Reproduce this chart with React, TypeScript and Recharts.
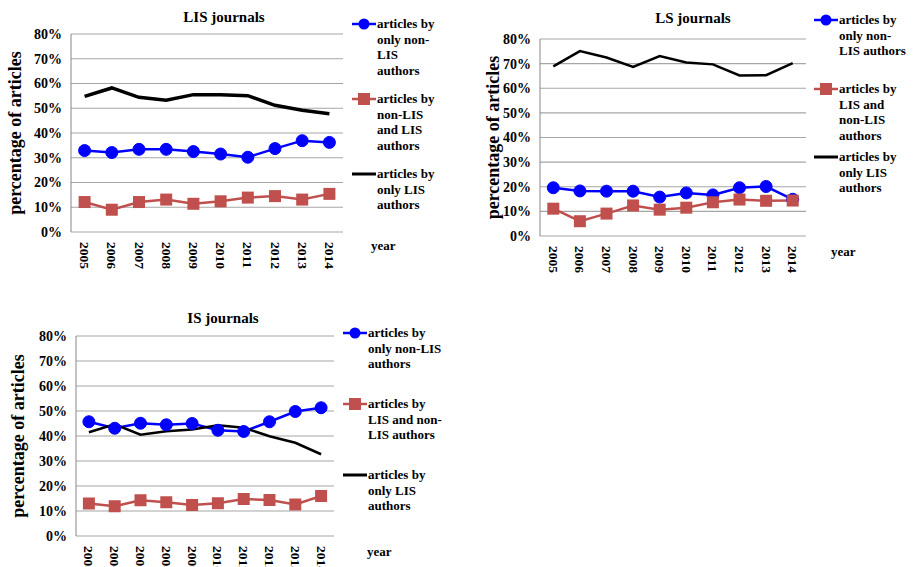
import React from 'react'
import { LineChart, Line, XAxis, YAxis, CartesianGrid } from 'recharts'

const years = ['2005', '2006', '2007', '2008', '2009', '2010', '2011', '2012', '2013', '2014']
const yTicks = [0, 10, 20, 30, 40, 50, 60, 70, 80]
const edgeTicks = [0, 1, 2, 3, 4, 5, 6, 7, 8, 9, 10]

// LIS journals
const lisOnlyNonLis = [32.9, 32.1, 33.4, 33.4, 32.5, 31.5, 30.2, 33.7, 36.9, 36.2]
const lisMixed = [12.1, 9.0, 12.1, 13.1, 11.4, 12.4, 13.9, 14.5, 13.1, 15.4]
const lisOnlyLis = [54.8, 58.2, 54.4, 53.2, 55.5, 55.5, 55.1, 51.2, 49.2, 47.8]

// LS journals
const lsOnlyNonLis = [19.6, 18.3, 18.2, 18.2, 15.8, 17.5, 16.7, 19.6, 20.1, 14.9]
const lsMixed = [11.1, 6.0, 9.1, 12.4, 10.7, 11.5, 13.7, 14.8, 14.3, 14.4]
const lsOnlyLis = [68.9, 75.1, 72.5, 68.7, 73.1, 70.5, 69.7, 65.2, 65.3, 70.2]

// IS journals
const isOnlyNonLis = [45.7, 43.1, 45.1, 44.5, 45.0, 42.3, 41.8, 45.7, 49.8, 51.3]
const isMixed = [13.0, 11.9, 14.3, 13.5, 12.4, 13.1, 14.8, 14.4, 12.6, 16.0]
const isOnlyLis = [41.5, 44.7, 40.5, 41.9, 42.6, 44.3, 43.3, 39.9, 37.3, 32.7]

const lisLegend = [
  ['articles by', 'only non-', 'LIS', 'authors'],
  ['articles by', 'non-LIS', 'and LIS', 'authors'],
  ['articles by', 'only LIS', 'authors'],
]
const lsLegend = [
  ['articles by', 'only non-', 'LIS authors'],
  ['articles by', 'LIS and', 'non-LIS', 'authors'],
  ['articles by', 'only LIS', 'authors'],
]
const isLegend = [
  ['articles by', 'only non-LIS', 'authors'],
  ['articles by', 'LIS and non-', 'LIS authors'],
  ['articles by', 'only LIS', 'authors'],
]

const FONT = '"Liberation Serif", "Times New Roman", serif'
const BLUE = '#0000ff'
const RED = '#c0504d'
const GRID = '#a6a6a6'
const AXIS = '#868686'

const build = (a: number[], b: number[], c: number[]) =>
  years.map((year, i) => ({ year, nonLis: a[i], mixed: b[i], onlyLis: c[i] }))

const SquareDot = (props: any) => {
  const { cx, cy } = props
  if (cx == null || cy == null) return null
  return <rect x={cx - 6} y={cy - 6} width={12} height={12} fill={RED} />
}

const YearTick = (props: any) => {
  const { x, y, payload } = props
  return (
    <text
      x={x}
      y={y}
      dx={10}
      dy={4.5}
      transform={`rotate(90, ${x}, ${y})`}
      fontFamily={FONT}
      fontWeight="bold"
      fontSize={13.5}
      fill="#000"
    >
      {payload.value}
    </text>
  )
}

const LegendIcon = ({ kind }: { kind: number }) => (
  <svg width={24} height={14} style={{ position: 'absolute', left: 0, top: 1 }}>
    <line x1={0} y1={7} x2={24} y2={7} stroke={kind === 0 ? BLUE : kind === 1 ? RED : '#000'} strokeWidth={kind === 2 ? 3 : 2.5} />
    {kind === 0 && <circle cx={12} cy={7} r={5.5} fill={BLUE} />}
    {kind === 1 && <rect x={6} y={1} width={12} height={12} fill={RED} />}
  </svg>
)

interface PanelProps {
  box: { x: number; y: number; w: number; h: number }
  plot: { left: number; top: number; right: number; bottom: number }
  title: string
  titleX: number
  titleY: number
  labelX: number
  data: { year: string; nonLis: number; mixed: number; onlyLis: number }[]
  legend: string[][]
  legendX: number
  legendYs: number[]
  yearX: number
  yearY: number
  blackWidth: number
}

function Panel(p: PanelProps) {
  const { box, plot } = p
  const yAxisW = plot.left - box.x
  const xAxisH = box.y + box.h - plot.bottom
  return (
    <>
      <div style={{ position: 'absolute', left: box.x, top: box.y }}>
        <LineChart
          width={box.w}
          height={box.h}
          data={p.data}
          margin={{ top: plot.top - box.y, right: box.x + box.w - plot.right, left: 0, bottom: 0 }}
        >
          <CartesianGrid vertical={false} stroke={GRID} strokeWidth={1.2} />
          <XAxis
            dataKey="year"
            scale="band"
            axisLine={false}
            tickLine={false}
            tickSize={0}
            tickMargin={0}
            height={xAxisH}
            interval={0}
            tick={<YearTick />}
          />
          <XAxis
            xAxisId="edge"
            type="number"
            domain={[0, 10]}
            ticks={edgeTicks}
            allowDataOverflow
            height={0}
            tickSize={5}
            stroke={AXIS}
            tick={() => <g />}
          />
          <YAxis
            domain={[0, 80]}
            ticks={yTicks}
            width={yAxisW}
            tickSize={0}
            tickMargin={9}
            stroke={AXIS}
            tickFormatter={(v: number) => `${v}%`}
            tick={{ fill: '#000', fontSize: 14, fontWeight: 'bold', fontFamily: FONT }}
            label={{
              value: 'percentage of articles',
              angle: -90,
              position: 'insideLeft',
              offset: p.labelX - box.x,
              style: { textAnchor: 'middle', fontSize: 18, fontWeight: 'bold', fontFamily: FONT, fill: '#000' },
            }}
          />
          <Line
            dataKey="nonLis"
            stroke={BLUE}
            strokeWidth={2.5}
            dot={{ r: 6, fill: BLUE, stroke: BLUE, strokeWidth: 1 }}
            isAnimationActive={false}
          />
          <Line dataKey="mixed" stroke={RED} strokeWidth={2.5} dot={<SquareDot />} isAnimationActive={false} />
          <Line dataKey="onlyLis" stroke="#000" strokeWidth={p.blackWidth} dot={false} isAnimationActive={false} />
        </LineChart>
      </div>
      <div
        style={{
          position: 'absolute',
          left: p.titleX - 100,
          width: 200,
          top: p.titleY - 9,
          textAlign: 'center',
          fontFamily: FONT,
          fontWeight: 'bold',
          fontSize: 15,
          lineHeight: '18px',
        }}
      >
        {p.title}
      </div>
      {p.legend.map((lines, i) => (
        <div
          key={i}
          style={{ position: 'absolute', left: p.legendX, top: p.legendYs[i] - 8, fontFamily: FONT, fontWeight: 'bold', fontSize: 13 }}
        >
          <LegendIcon kind={i} />
          <div style={{ marginLeft: 25, lineHeight: '15.7px', whiteSpace: 'nowrap' }}>
            {lines.map((l, j) => (
              <div key={j}>{l}</div>
            ))}
          </div>
        </div>
      ))}
      <div
        style={{
          position: 'absolute',
          left: p.yearX,
          top: p.yearY - 8,
          fontFamily: FONT,
          fontWeight: 'bold',
          fontSize: 13,
          lineHeight: '16px',
        }}
      >
        year
      </div>
    </>
  )
}

export default function App() {
  return (
    <div style={{ position: 'absolute', left: 0, top: 0, width: 920, height: 567, overflow: 'hidden', background: '#fff' }}>
      <Panel
        box={{ x: 0, y: 0, w: 460, h: 290 }}
        plot={{ left: 71, top: 34, right: 343, bottom: 232 }}
        title="LIS journals"
        titleX={224}
        titleY={17}
        labelX={15}
        data={build(lisOnlyNonLis, lisMixed, lisOnlyLis)}
        legend={lisLegend}
        legendX={352}
        legendYs={[24, 99, 174]}
        yearX={371}
        yearY={246}
        blackWidth={3.5}
      />
      <Panel
        box={{ x: 460, y: 0, w: 460, h: 290 }}
        plot={{ left: 540, top: 39, right: 806, bottom: 236 }}
        title="LS journals"
        titleX={693}
        titleY={18}
        labelX={493}
        data={build(lsOnlyNonLis, lsMixed, lsOnlyLis)}
        legend={lsLegend}
        legendX={814}
        legendYs={[20, 89, 157]}
        yearX={831}
        yearY={252}
        blackWidth={2.5}
      />
      <Panel
        box={{ x: 0, y: 300, w: 460, h: 267 }}
        plot={{ left: 76, top: 336, right: 334, bottom: 536 }}
        title="IS journals"
        titleX={223}
        titleY={318}
        labelX={18}
        data={build(isOnlyNonLis, isMixed, isOnlyLis)}
        legend={isLegend}
        legendX={343}
        legendYs={[333, 404, 475]}
        yearX={367}
        yearY={552}
        blackWidth={2.5}
      />
    </div>
  )
}
